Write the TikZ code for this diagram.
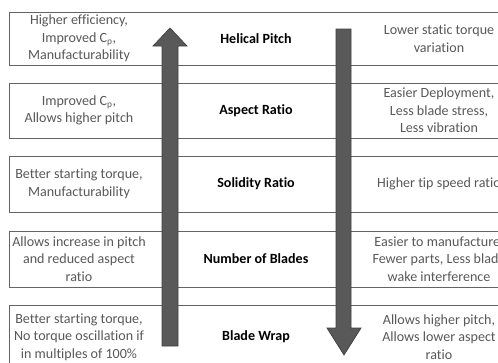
\documentclass[tikz,border=0pt]{standalone}
\usepackage{fontspec}
\setmainfont{Carlito}[Ligatures={NoCommon}]
\usepackage{tikz}
\definecolor{sidegray}{RGB}{89,89,89}
\definecolor{linegray}{RGB}{100,100,100}
\definecolor{arrowfill}{RGB}{89,89,89}
\definecolor{arrowline}{RGB}{64,64,64}

\begin{document}
\begin{tikzpicture}[x=0.03cm, y=-0.03cm,
			band/.style={draw=linegray, line width=0.8pt},
			sidetext/.style={align=center, inner sep=0pt, text=sidegray, font=\fontsize{12}{15}\selectfont},
			midtext/.style={align=center, inner sep=0pt, font=\fontsize{12}{15}\selectfont\bfseries},
			bigarrow/.style={fill=arrowfill, draw=arrowline, line width=0.6pt, line join=miter}
		]

		\useasboundingbox[fill=white] (0,0) rectangle (498,363);
		\clip (0,0) rectangle (498,363);

		% bands
		\draw[band] (9,12) rectangle (530,65);
		\draw[band] (9,83) rectangle (530,138);
		\draw[band] (9,156) rectangle (530,212);
		\draw[band] (9,231) rectangle (530,287);
		\draw[band] (9,305) rectangle (530,372);

		% left column
		\node[sidetext] (pro1) at (79,38.5) {Higher efficiency,\\Improved C\textsubscript{p},\\Manufacturability};
		\node[sidetext] (pro2) at (79,110.5) {Improved C\textsubscript{p},\\Allows higher pitch};
		\node[sidetext] (pro3) at (79,184) {Better starting torque,\\Manufacturability};
		\node[sidetext] (pro4) at (79,259) {Allows increase in pitch\\and reduced aspect\\ratio};
		\node[sidetext] (pro5) at (79,337) {Better starting torque,\\No torque oscillation if\\in multiples of 100\%};

		% middle column
		\node[midtext] (feat1) at (256,38.5) {Helical Pitch};
		\node[midtext] (feat2) at (256,110.5) {Aspect Ratio};
		\node[midtext] (feat3) at (256,184) {Solidity Ratio};
		\node[midtext] (feat4) at (256,259) {Number of Blades};
		\node[midtext] (feat5) at (256,337) {Blade Wrap};

		% right column
		\node[sidetext] (con1) at (439,38.5) {Lower static torque\\variation};
		\node[sidetext] (con2) at (439,110.5) {Easier Deployment,\\Less blade stress,\\Less vibration};
		\node[sidetext] (con3) at (439,184) {Higher tip speed ratio};
		\node[sidetext] (con4) at (439,259) {Easier to manufacture,\\Fewer parts, Less blade\\wake interference};
		\node[sidetext] (con5) at (439,337) {Allows higher pitch,\\Allows lower aspect\\ratio};

		% arrows
		\filldraw[bigarrow] (162,346) -- (162,46) -- (153,46) -- (170,28) -- (187,46) -- (178,46) -- (178,346) -- cycle;
		\filldraw[bigarrow] (336,29) -- (336,328) -- (327,328) -- (344,355) -- (361,328) -- (351,328) -- (351,29) -- cycle;

	\end{tikzpicture}
\end{document}
